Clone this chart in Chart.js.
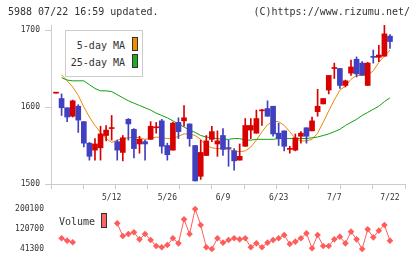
<!DOCTYPE html>
<html lang="en">
<head>
    <meta charset="UTF-8">
    <title>5988 chart</title>
    <style>
        body {
            margin: 0;
            background: #fff;
            font-family: 'DejaVu Sans Mono', monospace;
            color: #333;
        }
        #page {
            position: relative;
            width: 420px;
            height: 259px;
            overflow: hidden;
        }
        .txt {
            position: absolute;
            font-size: 10px;
            line-height: 12px;
            white-space: nowrap;
        }
        canvas {
            position: absolute;
            left: 0;
        }
        #maLegend {
            position: absolute;
            left: 65px;
            top: 30px;
            width: 78px;
            height: 47px;
            box-sizing: border-box;
            border: 1px solid #ccc;
            background: #fff;
        }
        .row {
            position: absolute;
            right: 17px;
            font-size: 10px;
            line-height: 12px;
        }
        .box {
            position: absolute;
            width: 6px;
            height: 14px;
            box-sizing: border-box;
            border: 1px solid #333;
        }
    </style>
</head>
<body>
<div id="page">
    <canvas id="priceChart" width="420" height="205" style="top:0"></canvas>
    <canvas id="volumeChart" width="420" height="59" style="top:200px"></canvas>

    <div class="txt" style="left:8px;top:6px">5988 07/22 16:59 updated.</div>
    <div class="txt" style="right:10px;top:6px">(C)https://www.rizumu.net/</div>

    <div id="maLegend">
        <div class="row" style="top:9px">5-day MA</div>
        <div class="box" style="left:66px;top:6px;background:#f08c00"></div>
        <div class="row" style="top:26px">25-day MA</div>
        <div class="box" style="left:66px;top:23px;background:#22aa22"></div>
    </div>
    <div class="txt" style="left:59px;top:216px">Volume</div>
    <div class="box" style="left:101px;top:213px;height:15px;background:#ff6464"></div>
</div>

<script src="https://cdn.jsdelivr.net/npm/chart.js"></script>
<script>
    // daily candles, 4/23 .. 7/22
    const openP  = [1618,1611,1599,1588,1601,1581,1553,1544,1547,1563,1572,1555,1541,1584,1571,1552,1555,1558,1573,1582,
                    1550,1544,1580,1582,1578,1550,1510,1537,1558,1552,1563,1546.5,1543,1531,1549,1570,1566,1595,1598,1601,
                    1566,1569,1545,1544,1562,1573,1569,1594,1604,1622,1650,1650,1628,1644,1662,1657,1628,1665,1664.5,1666,1692];
    const highP  = [1618,1617,1599,1609,1603,1581,1554,1559,1575,1576,1589,1557,1563,1585,1572,1562,1557,1581,1580,1584,
                    1553,1580,1586,1602,1578,1550,1557,1563,1575,1569,1572,1557,1546,1552,1585,1585,1596,1597,1608,1601,
                    1579,1569,1549,1565,1568,1573,1587,1623,1611,1641,1657,1650,1635,1661,1665,1659,1658,1674,1680,1706,1694];
    const lowP   = [1618,1589,1581,1587,1567,1548,1531,1531,1531,1556,1557,1531,1530,1557,1534,1540,1531,1558,1566,1540,
                    1531,1544,1559,1575,1549,1504,1506,1537,1555,1536,1537,1523,1518,1531,1549,1559,1566,1576,1588,1562,
                    1550,1543,1540,1543,1553,1553,1569,1588,1604,1617,1637,1624,1626,1641,1639,1641,1628,1657,1659,1666,1676];
    const closeP = [1618.5,1599,1587,1608,1583,1553,1536,1552,1565,1570,1572.5,1544,1560,1578,1546,1558,1552,1575,1573.5,1549,
                    1538,1579,1568,1586,1559,1504,1541,1556,1568,1556,1545,1546,1530,1536,1576,1576,1585,1595.5,1588,1565,
                    1559,1549,1545.5,1560,1566,1562,1582,1601,1611,1641,1650.5,1628,1634,1652,1643,1641.5,1657,1664.5,1667.5,1695,1685];

    const ma5  = [null,1642,1634,1626,1615,1600,1587,1576,1567,1559,1554,1557,1559,1560,1561,1560,1558,1559,1561,1560,
                  1559,1559,1562,1565,1565,1563,1558,1550,1547,1546,1546,1545,1543,1542,1543,1548,1557,1568,1577,1581,
                  1581,1576,1568,1559,1556,1556,1558,1566,1580,1595,1609,1622,1627,1636,1641,1641,1641,1647,1658,1666,1674];
    const ma25 = [null,1638,1635,1634,1634,1634,1629,1624,1621,1621,1620,1616,1612,1608,1605,1602,1599,1596,1592,1589,
                  1586,1582,1578,1574,1570,1567,1563,1561,1560,1559,1558,1558,1559,1559,1557,1557,1558,1558,1558,1558,
                  1559,1559,1559,1559,1559,1559,1560,1561,1563,1565,1568,1571,1576,1580,1584,1589,1593,1597,1601,1607,1612];

    const volume = [null,83700,74400,67800,null,null,null,null,null,null,null,143200,92900,100900,107500,79700,100900,77100,53200,48000,
                    57200,83700,63800,159100,100900,200100,136600,48000,41300,83700,66500,77100,83700,79700,83700,48000,63800,48000,66500,77100,
                    83700,96900,61200,70400,83700,103500,44000,96900,53200,53200,79700,90300,63800,110100,79700,41300,119400,87600,114100,136600,74400];

    const dateLabels = ['5/12', '5/26', '6/9', '6/23', '7/7', '7/22'];
    const dateIndex = [10, 20, 30, 40, 50, 60];
    const priceTicks = [1500, 1600, 1700];
    const volumeTicks = [41300, 120700, 200100];

    const RED = '#d90000';
    const BLUE = '#4040c0';
    const GRID = '#cccccc';
    const tickFont = { family: 'DejaVu Sans Mono', size: 8 };

    const xMin = -0.9, xMax = 62.7;
    // short marks along the bottom axis, 11 equal divisions
    const markTicks = [];
    for (let k = 0; k <= 11; k++) markTicks.push(xMin + k * (xMax - xMin) / 11);

    const candleColor = openP.map((o, i) => closeP[i] >= o ? RED : BLUE);
    const bodies = openP.map((o, i) => ({ x: i, y: [Math.min(o, closeP[i]), Math.max(o, closeP[i])] }));
    const wicks = lowP.map((l, i) => ({ x: i, y: [l, highP[i]] }));
    const asPoints = arr => arr.map((v, i) => ({ x: i, y: v }));

    new Chart(document.getElementById('priceChart'), {
        type: 'bar',
        data: {
            datasets: [
                { type: 'line', data: asPoints(ma5), borderColor: '#ee8800', borderWidth: 1, pointRadius: 0, order: 3 },
                { type: 'line', data: asPoints(ma25), borderColor: '#11a011', borderWidth: 1, pointRadius: 0, order: 2 },
                { data: wicks, backgroundColor: candleColor, barThickness: 1, grouped: false, order: 1 },
                { data: bodies, backgroundColor: candleColor, barThickness: 5, grouped: false, minBarLength: 1, order: 0 }
            ]
        },
        options: {
            responsive: false,
            animation: false,
            layout: { padding: { top: 25, right: 15, left: 0, bottom: 0 } },
            plugins: { legend: { display: false }, tooltip: { enabled: false } },
            scales: {
                x: {
                    type: 'linear',
                    min: xMin,
                    max: xMax,
                    offset: false,
                    afterBuildTicks: s => {
                        const vals = markTicks.concat(dateIndex).sort((a, b) => a - b);
                        s.ticks = vals.map(v => ({ value: v }));
                    },
                    afterFit: s => { s.height = 21; s.paddingLeft = 0; s.paddingRight = 0; },
                    ticks: {
                        autoSkip: false,
                        maxRotation: 0,
                        padding: 4,
                        font: tickFont,
                        color: '#333',
                        callback: v => {
                            const k = dateIndex.indexOf(v);
                            return k >= 0 ? dateLabels[k] : '';
                        }
                    },
                    grid: {
                        offset: false,
                        drawOnChartArea: false,
                        tickLength: 5,
                        color: ctx => (ctx.tick && ctx.tick.label) ? 'rgba(0,0,0,0)' : GRID
                    },
                    border: { color: GRID }
                },
                y: {
                    min: 1500,
                    max: 1706.5,
                    beginAtZero: false,
                    afterBuildTicks: s => { s.ticks = priceTicks.map(v => ({ value: v })); },
                    afterFit: s => { s.width = 51; s.paddingTop = 0; s.paddingBottom = 0; },
                    ticks: { padding: 5, font: tickFont, color: '#333', callback: v => String(v) },
                    grid: { drawOnChartArea: false, tickLength: 6, color: GRID },
                    border: { color: GRID }
                }
            }
        }
    });

    new Chart(document.getElementById('volumeChart'), {
        type: 'line',
        data: {
            datasets: [{
                data: asPoints(volume),
                borderColor: '#ff5c5c',
                backgroundColor: '#ff5c5c',
                borderWidth: 1,
                pointStyle: 'rectRot',
                pointRadius: 3.3,
                pointBorderWidth: 0,
                spanGaps: false
            }]
        },
        options: {
            responsive: false,
            animation: false,
            layout: { padding: { top: 5, right: 15, left: 0, bottom: 6 } },
            plugins: { legend: { display: false }, tooltip: { enabled: false } },
            scales: {
                x: { type: 'linear', min: xMin, max: xMax, display: false },
                y: {
                    min: 25420,
                    max: 215980,
                    afterBuildTicks: s => { s.ticks = volumeTicks.map(v => ({ value: v })); },
                    afterFit: s => { s.width = 51; s.paddingTop = 0; s.paddingBottom = 0; },
                    ticks: { padding: 7, font: tickFont, color: '#333', callback: v => String(v) },
                    grid: { display: false, drawTicks: false },
                    border: { display: false }
                }
            }
        }
    });
</script>
</body>
</html>
